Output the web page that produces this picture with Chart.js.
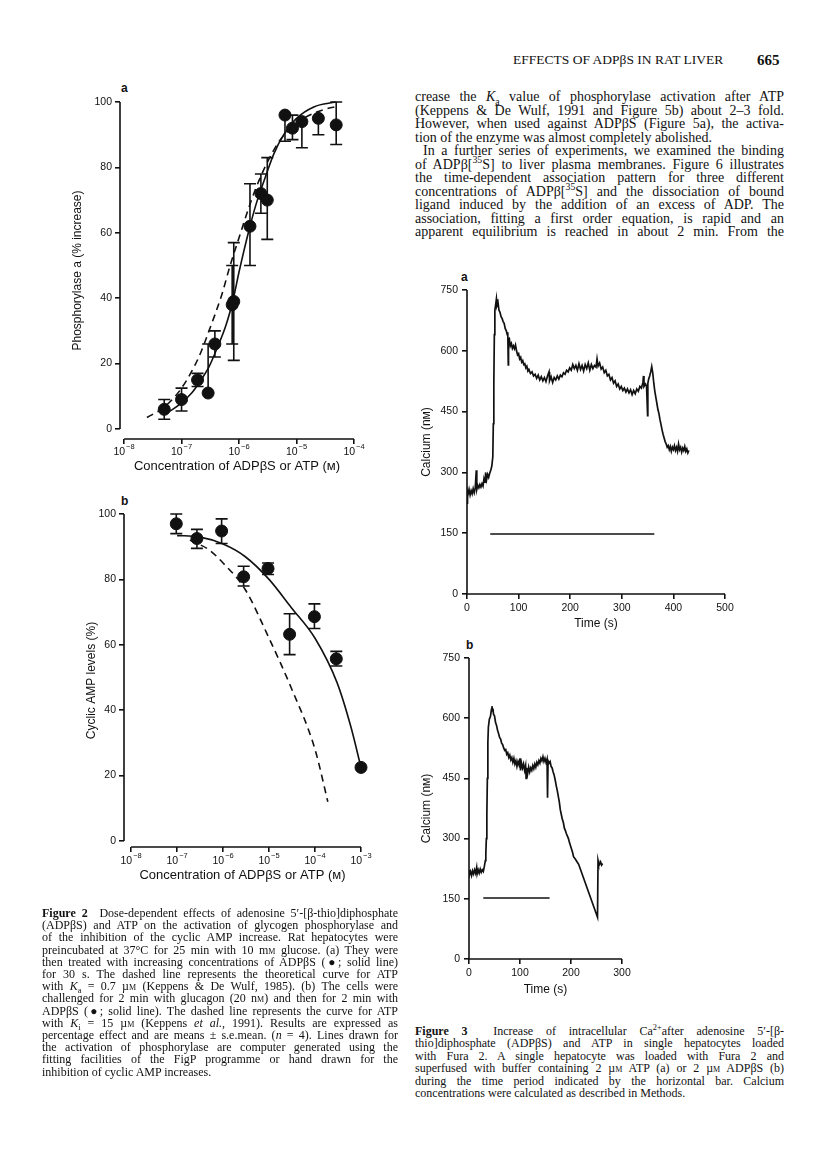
<!DOCTYPE html>
<html lang="en">
<head>
<meta charset="UTF-8" />
<title>Effects of ADPβS in rat liver</title>
<script src="https://cdn.jsdelivr.net/npm/chart.js@4.4.1/dist/chart.umd.min.js"></script>
<style>
  * { margin: 0; padding: 0; box-sizing: border-box; }
  body {
    width: 816px; height: 1162px; position: relative; overflow: hidden;
    background: #fff; color: #111;
    font-family: "Liberation Serif", "Times New Roman", serif;
  }
  canvas { position: absolute; }
  .panel { position: absolute; font: bold 12px "Liberation Sans", Arial, sans-serif; }
  .block { position: absolute; }
  .block div { text-align: justify; text-align-last: justify; }
  .block div.end { text-align-last: left; }
  .sc { font-variant: small-caps; }
  sub, sup { font-size: 70%; line-height: 0; }
  .head { position: absolute; top: 52px; font-size: 13.5px; line-height: 16px; }
</style>
</head>
<body>
  <div class="head" style="left:513px">EFFECTS OF ADPβS IN RAT LIVER</div>
  <div class="head" style="left:757px; font-weight:bold; font-size:15px">665</div>

  <div class="block" style="left:415px; top:90px; width:369px; font-size:14px; line-height:13.5px">
    <div>crease the <i>K</i><sub>a</sub> value of phosphorylase activation after ATP</div>
    <div>(Keppens &amp; De Wulf, 1991 and Figure 5b) about 2–3 fold.</div>
    <div>However, when used against ADPβS (Figure 5a), the activa-</div>
    <div class="end">tion of the enzyme was almost completely abolished.</div>
    <div style="text-indent:8px">In a further series of experiments, we examined the binding</div>
    <div>of ADPβ[<sup>35</sup>S] to liver plasma membranes. Figure 6 illustrates</div>
    <div>the time-dependent association pattern for three different</div>
    <div>concentrations of ADPβ[<sup>35</sup>S] and the dissociation of bound</div>
    <div>ligand induced by the addition of an excess of ADP. The</div>
    <div>association, fitting a first order equation, is rapid and an</div>
    <div>apparent equilibrium is reached in about 2&nbsp;min. From the</div>
  </div>

  <div class="panel" style="left:121px; top:81px">a</div>
  <div class="panel" style="left:121px; top:494px">b</div>
  <div class="panel" style="left:461px; top:270px">a</div>
  <div class="panel" style="left:466px; top:638px">b</div>

  <canvas id="fig2a" width="380" height="410" style="left:0; top:80px"></canvas>
  <canvas id="fig2b" width="390" height="410" style="left:0; top:492px"></canvas>
  <canvas id="fig3a" width="360" height="365" style="left:390px; top:270px"></canvas>
  <canvas id="fig3b" width="360" height="370" style="left:390px; top:635px"></canvas>

  <div class="block" style="left:42px; top:907px; width:356px; font-size:12px; line-height:12.2px">
    <div><b>Figure 2</b>&nbsp; Dose-dependent effects of adenosine 5′-[β-thio]diphosphate</div>
    <div>(ADPβS) and ATP on the activation of glycogen phosphorylase and</div>
    <div>of the inhibition of the cyclic AMP increase. Rat hepatocytes were</div>
    <div>preincubated at 37°C for 25&nbsp;min with 10&nbsp;m<span class="sc">m</span> glucose. (a) They were</div>
    <div>then treated with increasing concentrations of ADPβS (●; solid line)</div>
    <div>for 30&nbsp;s. The dashed line represents the theoretical curve for ATP</div>
    <div>with <i>K</i><sub>a</sub> = 0.7&nbsp;µ<span class="sc">m</span> (Keppens &amp; De Wulf, 1985). (b) The cells were</div>
    <div>challenged for 2&nbsp;min with glucagon (20&nbsp;n<span class="sc">m</span>) and then for 2&nbsp;min with</div>
    <div>ADPβS (●; solid line). The dashed line represents the curve for ATP</div>
    <div>with <i>K</i><sub>i</sub> = 15&nbsp;µ<span class="sc">m</span> (Keppens <i>et al.</i>, 1991). Results are expressed as</div>
    <div>percentage effect and are means ± s.e.mean. (<i>n</i> = 4). Lines drawn for</div>
    <div>the activation of phosphorylase are computer generated using the</div>
    <div>fitting facilities of the FigP programme or hand drawn for the</div>
    <div class="end">inhibition of cyclic AMP increases.</div>
  </div>

  <div class="block" style="left:415px; top:1025px; width:369px; font-size:12px; line-height:12.4px">
    <div><b>Figure 3</b>&nbsp; Increase of intracellular Ca<sup>2+</sup>after adenosine 5′-[β-</div>
    <div>thio]diphosphate (ADPβS) and ATP in single hepatocytes loaded</div>
    <div>with Fura 2. A single hepatocyte was loaded with Fura 2 and</div>
    <div>superfused with buffer containing 2&nbsp;µ<span class="sc">m</span> ATP (a) or 2&nbsp;µ<span class="sc">m</span> ADPβS (b)</div>
    <div>during the time period indicated by the horizontal bar. Calcium</div>
    <div class="end">concentrations were calculated as described in Methods.</div>
  </div>

<script>
  // ---- Figure 2a: phosphorylase a activation ----
  const concA = [5e-8, 1e-7, 1.9e-7, 2.9e-7, 3.8e-7, 7.6e-7, 8.1e-7, 1.55e-6, 2.4e-6, 3.1e-6, 6.3e-6, 8.5e-6, 1.24e-5, 2.4e-5, 4.9e-5];
  const phosA = [6, 9, 15, 11, 26, 38, 39, 62, 72, 70, 96, 92, 94, 95, 93];
  const phosALow = [3, 5.5, 13, null, 22, 26, 21, 50, 66, 58, 88, 88.5, 86, 90, 87];
  const phosAHigh = [9, 12.5, 17, 26, 30, 50, 57, 75, 78, 83, null, 96, null, null, 100];
  const fitAX = [5e-8, 7e-8, 1e-7, 1.5e-7, 2e-7, 3e-7, 4e-7, 6e-7, 8e-7, 1e-6, 1.5e-6, 2e-6, 3e-6, 4e-6, 6e-6, 1e-5, 2e-5, 4.8e-5];
  const fitAY = [4.5, 6, 8, 11, 14, 19, 24, 32, 40, 48, 61, 69, 78, 84, 90, 95, 98.5, 100];
  const atpAX = [2.5e-8, 5e-8, 1e-7, 2e-7, 3e-7, 5e-7, 7e-7, 1e-6, 1.5e-6, 2e-6, 3e-6, 5e-6, 8e-6, 1.2e-5, 2e-5, 3e-5, 4.8e-5];
  const atpAY = [3.5, 6.7, 12.5, 22, 30, 41, 50, 58.5, 68, 74, 81, 88, 92, 94.5, 96.6, 97.7, 98.6];

  // ---- Figure 2b: cyclic AMP levels ----
  const concB = [9.6e-8, 2.7e-7, 9.3e-7, 2.8e-6, 9.5e-6, 2.8e-5, 9.7e-5, 2.9e-4, 1e-3];
  const campB = [97, 92.5, 94.8, 80.8, 83.3, 63.2, 68.6, 55.7, 22.5];
  const campBLow = [94, 89.5, 91, 78, 81.5, 57, 65, 53.5, null];
  const campBHigh = [100, 95.3, 98.5, 84, 85, 69.5, 72.5, 58, null];
  const fitBX = [1e-7, 3e-7, 1e-6, 3e-6, 1e-5, 3e-5, 1e-4, 3e-4, 6e-4, 1e-3];
  const fitBY = [93.4, 93, 90.8, 87, 80, 71.5, 62, 48.5, 35, 22.5];
  const atpBX = [1.9e-7, 5e-7, 1e-6, 3e-6, 1e-5, 3e-5, 1e-4, 1.9e-4];
  const atpBY = [92, 89, 85, 77, 62, 47, 28, 12];

  const decadesA = [1e-8, 1e-7, 1e-6, 1e-5, 1e-4];
  const decadesB = [1e-8, 1e-7, 1e-6, 1e-5, 1e-4, 1e-3];
  const pctTicks = [0, 20, 40, 60, 80, 100];

  // ---- Figure 3a: Ca2+ trace, 2 uM ATP ----
  const timeA = [0, 1, 2, 4, 6, 8, 10, 12, 14, 16, 18, 19, 21, 23, 25, 27, 29, 31, 33, 35, 36, 38, 40, 42, 44, 46, 48, 50, 51, 52, 53, 54, 56, 57, 58, 60, 62, 64, 66, 68, 70, 72, 74, 76, 78, 79, 80, 80.5, 82, 84, 86, 88, 90, 92, 94, 96, 98, 100, 102, 104, 106, 108, 110, 112, 114, 116, 118, 120, 123, 126, 129, 132, 135, 138, 141, 144, 147, 150, 153, 156, 159, 160, 163, 166, 169, 172, 175, 178, 181, 184, 187, 190, 193, 196, 199, 202, 205, 208, 211, 214, 217, 220, 223, 226, 229, 232, 235, 238, 241, 244, 247, 250, 252, 254, 257, 260, 263, 266, 269, 272, 275, 278, 281, 284, 287, 290, 293, 296, 299, 302, 305, 308, 311, 314, 317, 320, 323, 326, 329, 332, 335, 338, 341, 342, 343, 346, 348, 350, 350.5, 352, 354, 356, 358, 360, 362, 364, 366, 368, 370, 372, 374, 376, 378, 380, 382, 384, 386, 388, 390, 392, 394, 396, 398, 400, 402, 404, 406, 408, 410, 412, 414, 416, 418, 420, 422, 424, 426, 428, 430];
  const calciumA = [224, 252, 246, 258, 244, 255, 247, 260, 250, 262, 305, 258, 268, 262, 270, 264, 272, 266, 285, 276, 300, 282, 295, 288, 298, 305, 315, 338, 420, 520, 640, 700, 718, 728, 712, 720, 700, 695, 684, 680, 672, 668, 655, 650, 640, 646, 565, 628, 630, 612, 618, 606, 612, 605, 614, 600, 590, 593, 580, 584, 572, 576, 566, 568, 558, 562, 550, 554, 544, 548, 538, 542, 532, 540, 528, 536, 526, 534, 524, 538, 548, 526, 536, 522, 534, 528, 538, 530, 540, 536, 546, 542, 552, 548, 558, 552, 566, 556, 564, 552, 568, 554, 564, 550, 566, 556, 570, 552, 566, 556, 564, 560, 580, 562, 570, 555, 560, 546, 552, 538, 542, 528, 534, 520, 526, 512, 518, 506, 512, 502, 508, 498, 506, 496, 504, 492, 502, 494, 506, 500, 512, 508, 522, 538, 512, 518, 512, 440, 520, 530, 538, 548, 561, 545, 520, 500, 485, 470, 455, 445, 430, 418, 405, 394, 385, 376, 370, 362, 366, 356, 364, 352, 362, 356, 366, 354, 362, 352, 370, 356, 362, 350, 360, 354, 364, 352, 358, 348, 354];
  const barATime = [45, 363];
  const barACa = [148, 148];

  // ---- Figure 3b: Ca2+ trace, 2 uM ADPbetaS ----
  const timeB = [0, 1, 3, 5, 7, 9, 11, 13, 15, 16, 18, 20, 22, 24, 26, 28, 30, 32, 33, 34, 35, 36, 37, 38, 40, 42, 44, 45, 46, 47, 48, 50, 52, 54, 56, 58, 60, 62, 64, 66, 68, 70, 72, 74, 76, 78, 80, 82, 84, 86, 88, 90, 92, 94, 96, 98, 100, 101, 103, 105, 107, 109, 111, 112, 113, 115, 117, 119, 121, 123, 125, 127, 129, 131, 133, 135, 137, 139, 141, 143, 145, 147, 149, 151, 153, 154, 155, 157, 159, 161, 163, 165, 167, 169, 171, 173, 175, 177, 179, 181, 183, 185, 187, 189, 191, 193, 195, 197, 199, 201, 203, 205, 209, 213, 215, 252, 253, 254, 256, 258, 260, 262];
  const calciumB = [222, 210, 218, 208, 220, 212, 222, 214, 228, 212, 222, 214, 224, 216, 222, 218, 230, 245, 262, 300, 360, 450, 540, 578, 598, 604, 622, 630, 618, 624, 610, 606, 590, 582, 570, 562, 552, 548, 538, 534, 526, 520, 522, 510, 514, 502, 508, 496, 502, 490, 500, 486, 494, 480, 492, 484, 500, 470, 488, 476, 486, 470, 482, 450, 476, 462, 478, 466, 476, 470, 482, 474, 486, 478, 490, 484, 494, 488, 500, 494, 504, 492, 500, 490, 498, 402, 494, 488, 492, 480, 476, 466, 458, 446, 432, 420, 406, 392, 372, 360, 348, 340, 326, 320, 312, 306, 300, 290, 282, 274, 266, 255, 248, 240, 236, 104, 246, 240, 236, 242, 234, 238];
  const barBTime = [28, 158];
  const barBCa = [152, 152];
  const calciumTicks = 150;

  const ink = '#111';
  Chart.defaults.font.family = '"Liberation Sans", Arial, sans-serif';
  Chart.defaults.color = ink;

  const pts = (xs, ys) => xs.map((x, i) => ({ x: x, y: ys[i] }));

  // vertical s.e.mean bars with caps
  const errorBars = {
    id: 'errorBars',
    afterDatasetsDraw(chart) {
      const { ctx, scales: { x, y } } = chart;
      chart.data.datasets.forEach(ds => {
        if (!ds.errLow) return;
        ctx.save();
        ctx.strokeStyle = ink;
        ctx.lineWidth = 1.6;
        ds.data.forEach((p, i) => {
          const lo = ds.errLow[i], hi = ds.errHigh[i];
          if (lo == null && hi == null) return;
          const px = x.getPixelForValue(p.x);
          const yl = y.getPixelForValue(lo == null ? p.y : lo);
          const yh = y.getPixelForValue(hi == null ? p.y : hi);
          ctx.beginPath();
          ctx.moveTo(px, yl);
          ctx.lineTo(px, yh);
          if (lo != null) { ctx.moveTo(px - 6, yl); ctx.lineTo(px + 6, yl); }
          if (hi != null) { ctx.moveTo(px - 6, yh); ctx.lineTo(px + 6, yh); }
          ctx.stroke();
        });
        ctx.restore();
      });
    }
  };

  // axis lines that stop at the end ticks, and 10^n labels
  const axisLines = {
    id: 'axisLines',
    afterDraw(chart, args, opts) {
      const { ctx, chartArea, scales: { x, y } } = chart;
      ctx.save();
      ctx.strokeStyle = ink;
      ctx.lineWidth = 1.6;
      ctx.beginPath();
      ctx.moveTo(chartArea.left, y.getPixelForValue(opts.y[0]));
      ctx.lineTo(chartArea.left, y.getPixelForValue(opts.y[1]));
      ctx.moveTo(x.getPixelForValue(opts.x[0]), chartArea.bottom);
      ctx.lineTo(x.getPixelForValue(opts.x[1]), chartArea.bottom);
      ctx.stroke();
      if (opts.decades) {
        ctx.fillStyle = ink;
        ctx.textBaseline = 'middle';
        ctx.textAlign = 'left';
        const base = '10.5px "Liberation Sans", Arial, sans-serif';
        const sup = '7.5px "Liberation Sans", Arial, sans-serif';
        const ly = chartArea.bottom + opts.labelDy;
        opts.decades.forEach(v => {
          const e = '−' + Math.abs(Math.round(Math.log10(v)));
          ctx.font = base;
          const w1 = ctx.measureText('10').width;
          ctx.font = sup;
          const w2 = ctx.measureText(e).width;
          const left = x.getPixelForValue(v) - (w1 + w2 + 1) / 2;
          ctx.font = base;
          ctx.fillText('10', left, ly);
          ctx.font = sup;
          ctx.fillText(e, left + w1 + 1, ly - 5);
        });
      }
      ctx.restore();
    }
  };

  const tickGrid = { drawOnChartArea: false, drawTicks: true, tickLength: 5, color: ink, lineWidth: 1.6 };

  function doseChart(id, o) {
    const curve = { showLine: true, pointRadius: 0, borderColor: ink, borderWidth: 1.6, cubicInterpolationMode: 'monotone', clip: false };
    return new Chart(document.getElementById(id), {
      type: 'scatter',
      data: {
        datasets: [
          Object.assign({ data: pts(o.fitX, o.fitY) }, curve),
          Object.assign({ data: pts(o.atpX, o.atpY), borderDash: [7, 5] }, curve),
          { data: pts(o.conc, o.mean), errLow: o.low, errHigh: o.high, pointRadius: 6,
            pointBackgroundColor: ink, pointBorderColor: ink, clip: false }
        ]
      },
      options: {
        responsive: false, animation: false, events: [],
        layout: { padding: { top: o.top, right: o.right, left: 0, bottom: 0 } },
        plugins: {
          legend: { display: false }, tooltip: { enabled: false },
          axisLines: { x: [o.decades[0], o.decades[o.decades.length - 1]], y: [0, 100], decades: o.decades, labelDy: o.labelDy }
        },
        scales: {
          x: {
            type: 'logarithmic', min: o.xMin, max: o.decades[o.decades.length - 1],
            afterBuildTicks: s => { s.ticks = o.decades.map(v => ({ value: v })); },
            afterFit: s => { s.height = o.xH; },
            grid: tickGrid, border: { display: false }, ticks: { display: false },
            title: { display: true, text: 'Concentration of ADPβS or ATP (ᴍ)', font: { size: 13 }, padding: { top: 0, bottom: o.xTitlePad } }
          },
          y: {
            min: o.yMin, max: 100,
            afterBuildTicks: s => { s.ticks = pctTicks.map(v => ({ value: v })); },
            afterFit: s => { s.width = o.yW; },
            grid: tickGrid, border: { display: false },
            ticks: { font: { size: 10.5 }, padding: 3 },
            title: { display: true, text: o.yTitle, font: { size: 12 }, padding: { top: o.yTitlePad, bottom: 0 } }
          }
        }
      },
      plugins: [errorBars, axisLines]
    });
  }

  function traceChart(id, o) {
    const line = { showLine: true, pointRadius: 0, borderColor: ink, borderWidth: 1.7, tension: 0 };
    return new Chart(document.getElementById(id), {
      type: 'scatter',
      data: {
        datasets: [
          Object.assign({ data: pts(o.t, o.ca) }, line),
          Object.assign({ data: pts(o.barT, o.barCa) }, line)
        ]
      },
      options: {
        responsive: false, animation: false, events: [],
        layout: { padding: { top: o.top, right: o.right, left: 0, bottom: 0 } },
        plugins: {
          legend: { display: false }, tooltip: { enabled: false },
          axisLines: { x: [0, o.tMax], y: [0, 750] }
        },
        scales: {
          x: {
            type: 'linear', min: 0, max: o.tMax,
            afterFit: s => { s.height = o.xH; },
            grid: tickGrid, border: { display: false },
            ticks: { stepSize: 100, autoSkip: false, maxRotation: 0, font: { size: 10.5 }, padding: 3 },
            title: { display: true, text: 'Time (s)', font: { size: 12 }, padding: { top: 0, bottom: o.xTitlePad } }
          },
          y: {
            min: 0, max: 750,
            afterFit: s => { s.width = o.yW; },
            grid: tickGrid, border: { display: false },
            ticks: { stepSize: calciumTicks, autoSkip: false, font: { size: 10.5 }, padding: 4 },
            title: { display: true, text: 'Calcium (nᴍ)', font: { size: 12 }, padding: { top: 29, bottom: 0 } }
          }
        }
      },
      plugins: [axisLines]
    });
  }

  doseChart('fig2a', {
    conc: concA, mean: phosA, low: phosALow, high: phosAHigh,
    fitX: fitAX, fitY: fitAY, atpX: atpAX, atpY: atpAY, decades: decadesA,
    xMin: 8.5e-9, yMin: -3.06, top: 22, right: 26, yW: 120, xH: 51,
    labelDy: 13, xTitlePad: 15.8, yTitle: 'Phosphorylase a (% increase)', yTitlePad: 70
  });

  doseChart('fig2b', {
    conc: concB, mean: campB, low: campBLow, high: campBHigh,
    fitX: fitBX, fitY: fitBY, atpX: atpBX, atpY: atpBY, decades: decadesB,
    xMin: 7.05e-9, yMin: -1.84, top: 22, right: 29, yW: 124, xH: 55,
    labelDy: 14, xTitlePad: 18.8, yTitle: 'Cyclic AMP levels (%)', yTitlePad: 84
  });

  traceChart('fig3a', {
    t: timeA, ca: calciumA, barT: barATime, barCa: barACa, tMax: 500,
    top: 20, right: 25, yW: 77, xH: 41, xTitlePad: 3.8
  });

  traceChart('fig3b', {
    t: timeB, ca: calciumB, barT: barBTime, barCa: barBCa, tMax: 300,
    top: 23, right: 128, yW: 79, xH: 46, xTitlePad: 7.8
  });
</script>
</body>
</html>
